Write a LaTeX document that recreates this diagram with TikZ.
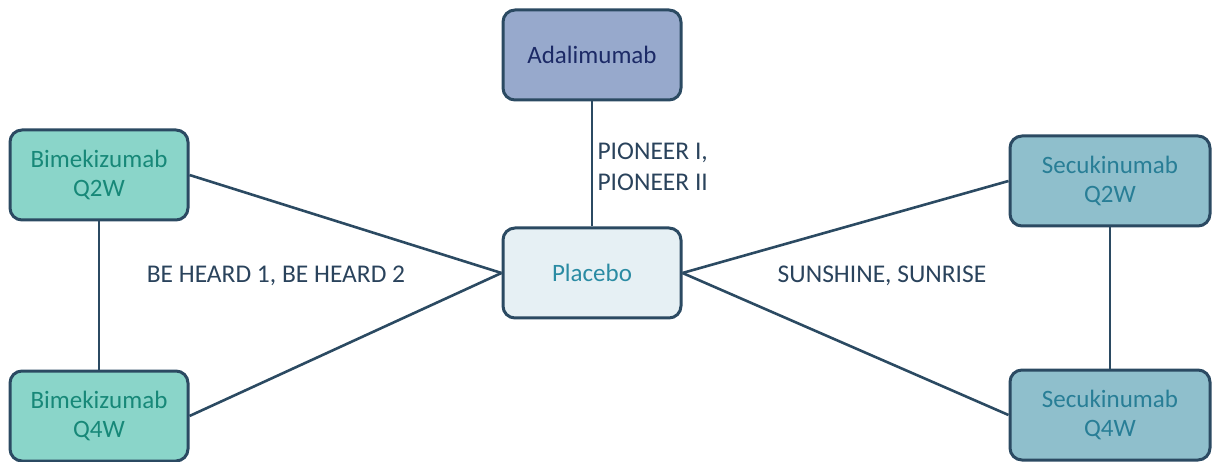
\documentclass[tikz,border=0pt]{standalone}
\usepackage{fontspec}
\setmainfont{Carlito}
\usepackage{tikz}

\definecolor{edgecol}{HTML}{2B4A62}
\definecolor{adafill}{HTML}{97A9CC}
\definecolor{adatext}{HTML}{1C2A66}
\definecolor{bimfill}{HTML}{8AD5C9}
\definecolor{bimtext}{HTML}{178878}
\definecolor{plafill}{HTML}{E6F0F4}
\definecolor{platext}{HTML}{2A8BA3}
\definecolor{secfill}{HTML}{8FBFCC}
\definecolor{sectext}{HTML}{287E96}
\definecolor{labtext}{HTML}{2A435C}

\tikzset{
  drug/.style={draw=edgecol, line width=3pt, rounded corners=12pt, minimum width=178pt,
    minimum height=90pt, align=center, font=\fontsize{25}{29}\selectfont},
  trial/.style={text=labtext, font=\fontsize{25.5}{31}\selectfont},
  link/.style={draw=edgecol, line width=2.6pt}
}

\begin{document}
\begin{tikzpicture}[x=1pt,y=-1pt]
  \useasboundingbox (0,0) rectangle (1213,462);
  \node[drug, fill=adafill, text=adatext] (ada) at (592,55) {Adalimumab};
  \node[drug, fill=plafill, text=platext] (pla) at (592,273) {Placebo};
  \node[drug, fill=bimfill, text=bimtext] (bq2) at (99,175) {Bimekizumab\\Q2W};
  \node[drug, fill=bimfill, text=bimtext] (bq4) at (99,416) {Bimekizumab\\Q4W};
  \node[drug, fill=secfill, text=sectext, minimum width=200pt] (sq2) at (1110,181) {Secukinumab\\Q2W};
  \node[drug, fill=secfill, text=sectext, minimum width=200pt] (sq4) at (1110,415) {Secukinumab\\Q4W};

  \draw[link] (ada) -- (pla);
  \draw[link] (bq2) -- (bq4);
  \draw[link] (sq2) -- (sq4);
  \draw[link] (bq2.east) -- (pla.west);
  \draw[link] (bq4.east) -- (pla.west);
  \draw[link] (pla.east) -- (sq2.west);
  \draw[link] (pla.east) -- (sq4.west);

  \node[trial, align=left, anchor=west] (pio) at (594,167) {PIONEER I,\\PIONEER II};
  \node[trial] (beh) at (276,276) {BE HEARD 1, BE HEARD 2};
  \node[trial] (sun) at (882,276) {SUNSHINE, SUNRISE};
\end{tikzpicture}
\end{document}
